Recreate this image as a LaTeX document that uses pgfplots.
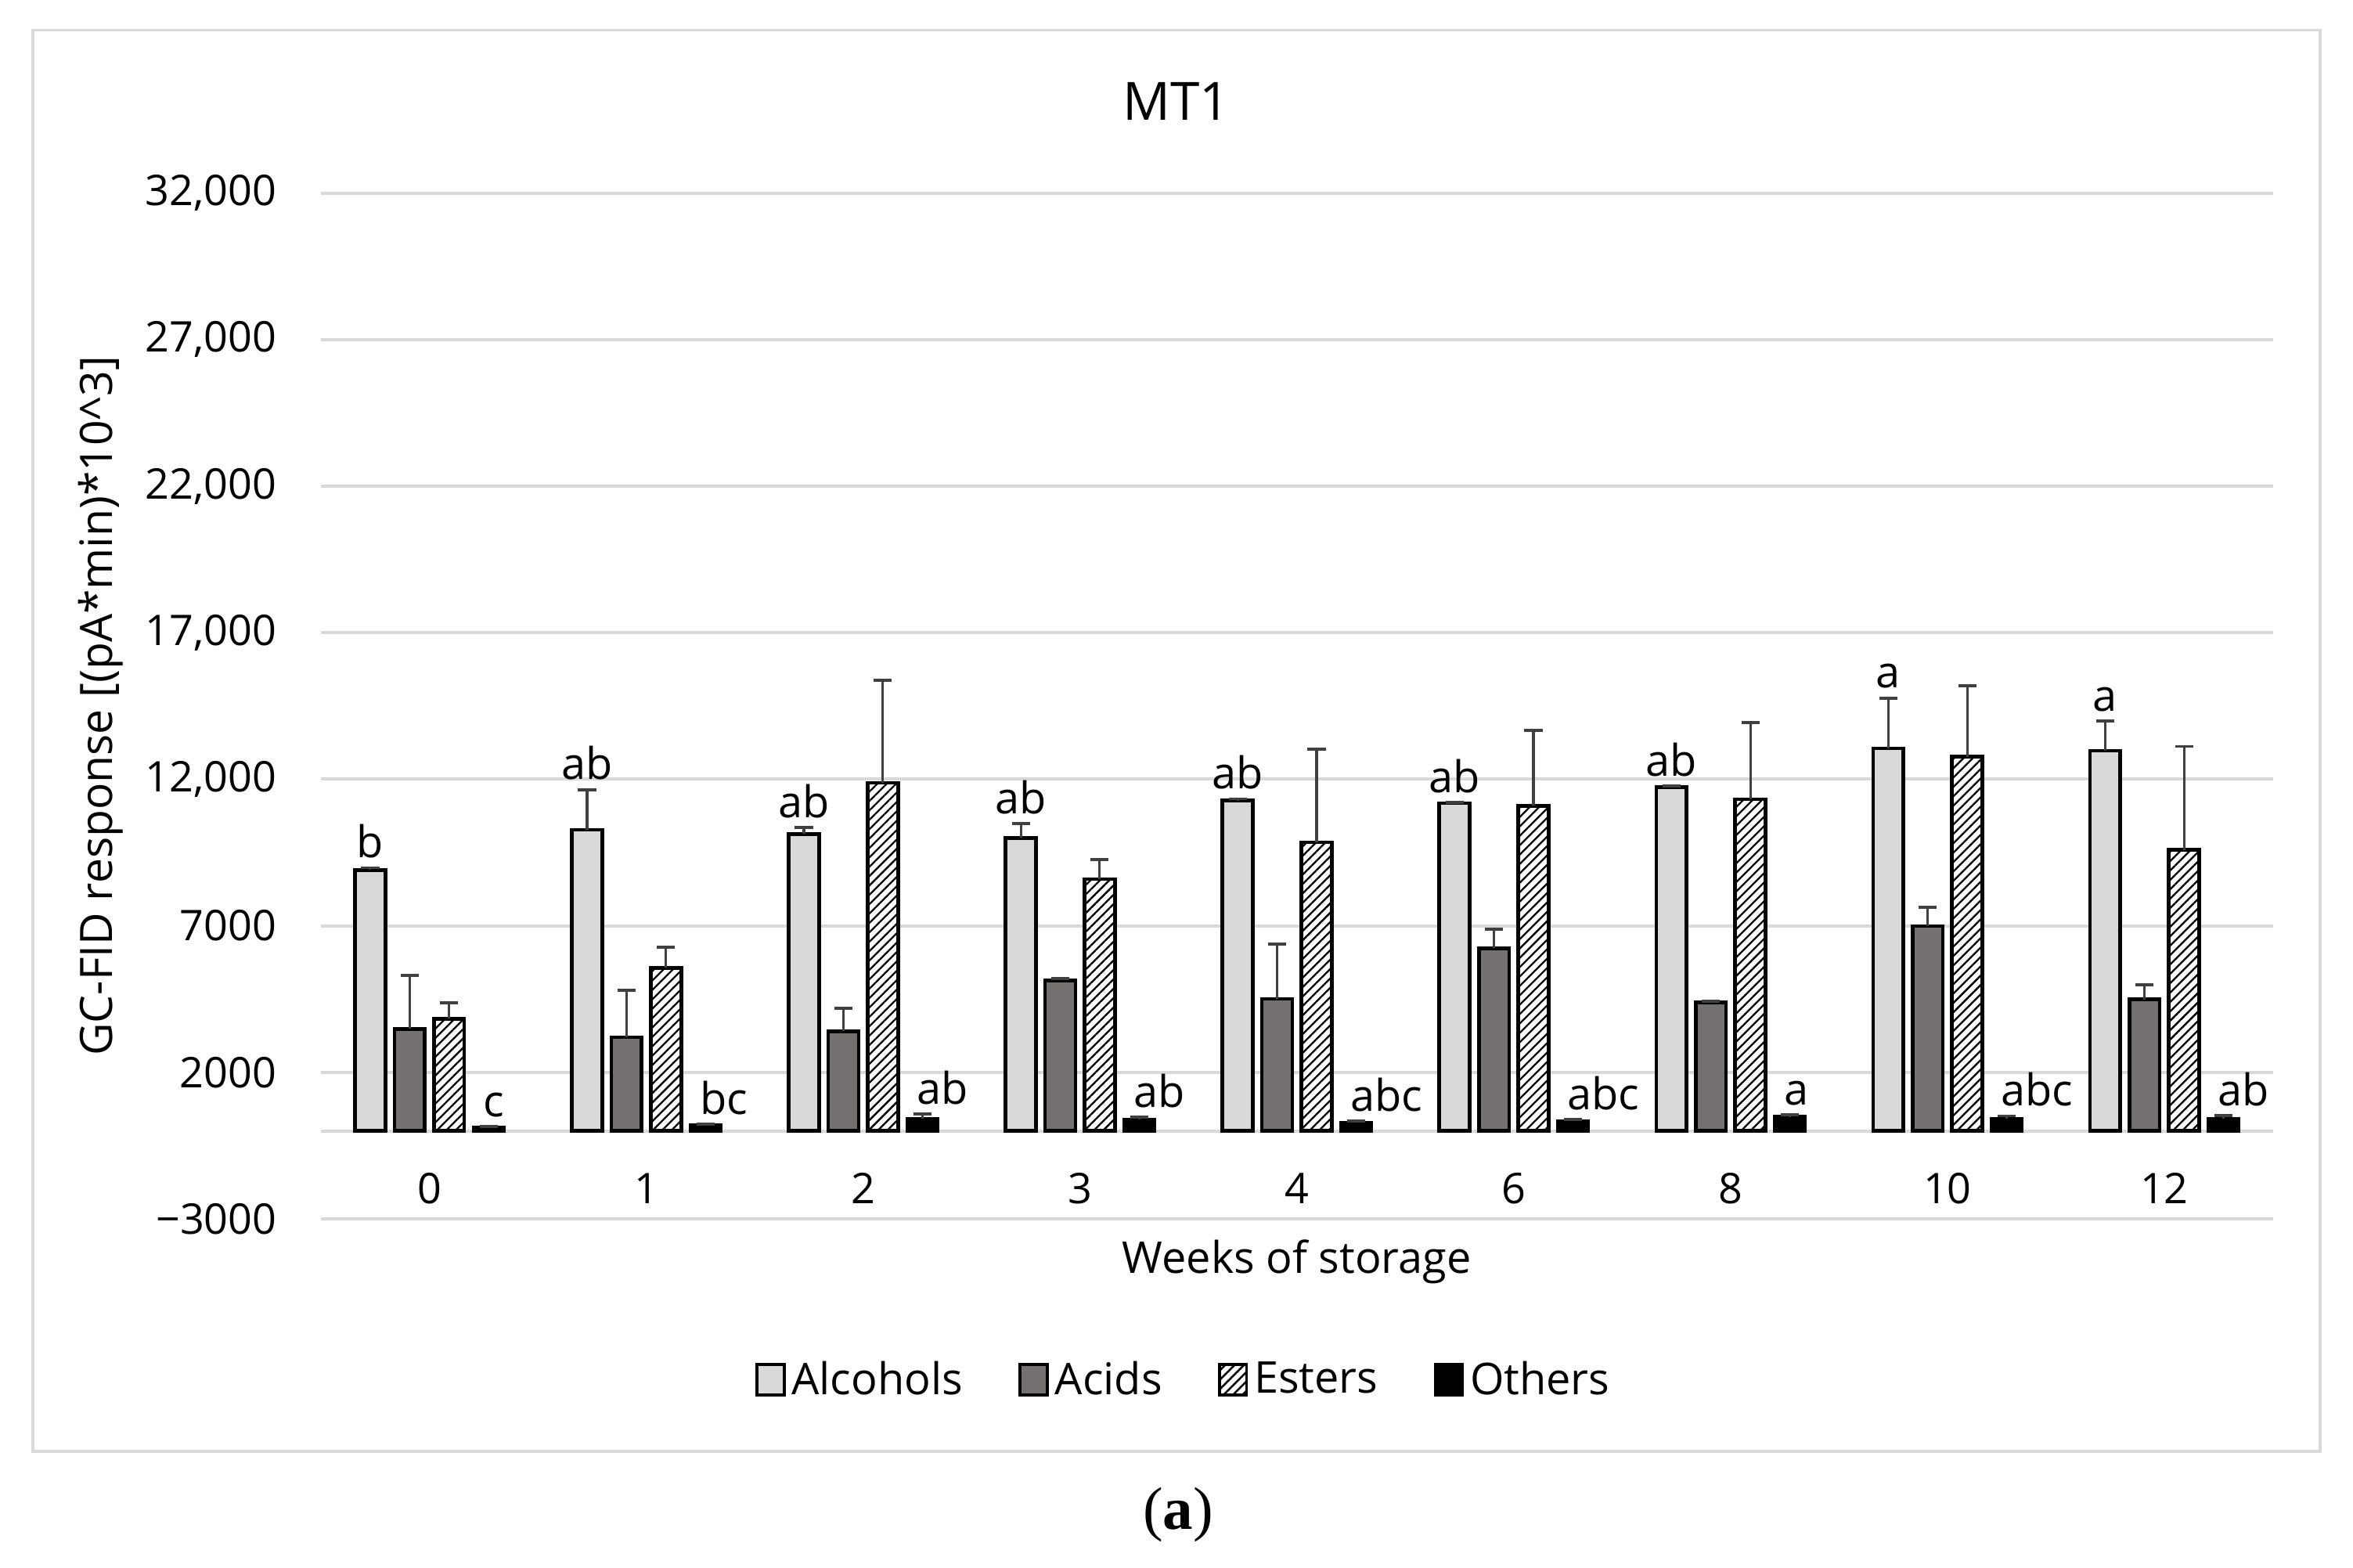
\documentclass[border=0pt]{standalone}
\usepackage{fontspec}
\setmainfont{Open Sans}
\newfontfamily\seriffont{Liberation Serif}
\usepackage{pgfplots}
\usepackage{pgfplotstable}
\pgfplotsset{compat=1.18}
\usetikzlibrary{patterns.meta}

\definecolor{alcc}{HTML}{D9D9D9}
\definecolor{acidc}{HTML}{767171}
\definecolor{gridc}{HTML}{D9D9D9}
\definecolor{errc}{HTML}{404040}

\pgfplotstableread{
x alc alcE acid acidE est estE oth othE alct otht alab olab
0 8900 80 3480 1820 3830 540 120 20 8980 140 b c
1 10270 1370 3200 1590 5560 700 200 20 11640 220 ab bc
2 10130 215 3400 790 11880 3490 420 150 10345 570 ab ab
3 10000 490 5140 70 8590 670 390 80 10490 470 ab ab
4 11270 60 4500 1880 9850 3180 280 50 11330 330 ab abc
5 11180 30 6230 650 11090 2580 330 50 11210 380 ab abc
6 11730 30 4390 30 11320 2620 480 70 11760 550 ab a
7 13050 1720 6990 650 12770 2420 420 90 14770 510 a abc
8 12975 1010 4490 490 9590 3530 420 100 13985 520 a ab
}\data

\begin{document}
\begin{tikzpicture}[x=1pt,y=1pt]
\path[use as bounding box] (0,0) rectangle (780,519.5);
\fill[white] (0,0) rectangle (780,519.5);
\draw[gridc, line width=1pt] (10.8,38.5) rectangle (769,509.5);
\node[font=\fontsize{17.5}{21}\selectfont, anchor=center] at (390,485.8) {MT1};
\node[font=\fontsize{20}{24}\selectfont\seriffont, anchor=center] at (390.5,17.5) {(\textbf{a})};
\begin{axis}[
  at={(106.4pt,115.5pt)}, anchor=south west,
  scale only axis, width=647pt, height=340pt,
  xmin=-0.5, xmax=8.5, ymin=-3000, ymax=32000,
  clip=false,
  axis line style={draw=none},
  major tick length=0pt,
  scaled y ticks=false,
  ytick={-3000,2000,7000,12000,17000,22000,27000,32000},
  yticklabels={−3000,2000,7000,{12,000},{17,000},{22,000},{27,000},{32,000}},
  extra y ticks={0}, extra y tick labels={},
  extra y tick style={grid=major},
  ymajorgrids,
  grid style={gridc, line width=1pt},
  xtick={0,1,2,3,4,5,6,7,8},
  xticklabels={0,1,2,3,4,6,8,10,12},
  tick label style={font=\fontsize{14}{17}\selectfont},
  yticklabel style={anchor=east, inner sep=0pt, xshift=-14.5pt},
  xticklabel style={anchor=center, inner sep=0pt, yshift=10pt},
  xlabel={Weeks of storage},
  ylabel={GC-FID response [(pA*min)*10\^{}3]},
  every axis x label/.style={at={(axis description cs:0.5,-0.053)}, anchor=base, font=\fontsize{14.5}{17}\selectfont},
  every axis y label/.style={at={(axis description cs:-0.1127,0.5)}, anchor=center, rotate=90, font=\fontsize{14.8}{17}\selectfont},
  legend style={draw=none, fill=none, at={(0.4430,-0.157)}, anchor=center,
    font=\fontsize{14.5}{17}\selectfont, legend columns=4,
    /tikz/every even column/.append style={column sep=16.5pt}},
  legend cell align=left,
  bar width=0.14,
  every axis plot/.append style={
    error bars/y dir=plus, error bars/y explicit,
    error bars/error mark=-,
    error bars/error bar style={errc, line width=0.8pt},
    error bars/error mark options={errc, line width=1pt, mark size=3pt, rotate=90},
  },
]
\addplot[ybar, bar shift=0pt, draw=black, line width=1.2pt, fill=alcc,
  legend image code/.code={\draw[draw=black, line width=1pt, fill=alcc] (0pt,-5pt) rectangle (9pt,5pt);}]
  table[x expr=\thisrow{x}-0.273, y=alc, y error=alcE] {\data};
\addlegendentry{Alcohols}
\addplot[ybar, bar shift=0pt, draw=black, line width=1.2pt, fill=acidc,
  legend image code/.code={\draw[draw=black, line width=1pt, fill=acidc] (0pt,-5pt) rectangle (9pt,5pt);}]
  table[x expr=\thisrow{x}-0.091, y=acid, y error=acidE] {\data};
\addlegendentry{Acids}
\addplot[ybar, bar shift=0pt, draw=black, line width=1.2pt, fill=white,
  postaction={pattern={Lines[angle=45, distance=2.2pt, line width=0.6pt]}},
  legend image code/.code={\draw[draw=black, line width=1pt, fill=white, postaction={pattern={Lines[angle=45, distance=2.2pt, line width=0.6pt]}}] (0pt,-5pt) rectangle (9pt,5pt);}]
  table[x expr=\thisrow{x}+0.091, y=est, y error=estE] {\data};
\addlegendentry{Esters}
\addplot[ybar, bar shift=0pt, draw=black, line width=1.2pt, fill=black,
  legend image code/.code={\draw[draw=black, line width=1pt, fill=black] (0pt,-5pt) rectangle (9pt,5pt);}]
  table[x expr=\thisrow{x}+0.273, y=oth, y error=othE] {\data};
\addlegendentry{Others}
% letters
\addplot[ybar, bar shift=0pt, draw=none, fill=none, forget plot,
  error bars/y dir=none,
  nodes near coords, point meta=explicit symbolic,
  nodes near coords style={font=\fontsize{14.5}{17}\selectfont, anchor=south, inner sep=3pt, text=black}]
  table[x expr=\thisrow{x}-0.273, y=alct, meta=alab] {\data};
\addplot[ybar, bar shift=0pt, draw=none, fill=none, forget plot,
  error bars/y dir=none,
  nodes near coords, point meta=explicit symbolic,
  nodes near coords style={font=\fontsize{14.5}{17}\selectfont, anchor=south west, inner sep=3pt, xshift=-5pt, text=black}]
  table[x expr=\thisrow{x}+0.273, y=otht, meta=olab] {\data};
\end{axis}
\end{tikzpicture}
\end{document}
